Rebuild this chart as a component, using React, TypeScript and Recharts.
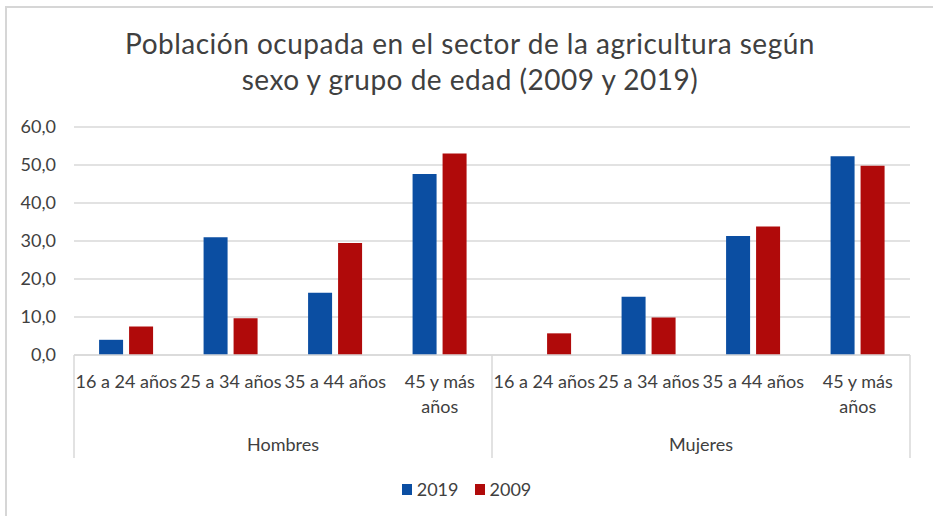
import React from "react";
import { BarChart, Bar, XAxis, YAxis, CartesianGrid, Legend } from "recharts";

const groups = ["Hombres", "Hombres", "Hombres", "Hombres", "Mujeres", "Mujeres", "Mujeres", "Mujeres"];
const ageLabels = [
  "16 a 24 años",
  "25 a 34 años",
  "35 a 44 años",
  "45 y más\naños",
  "16 a 24 años",
  "25 a 34 años",
  "35 a 44 años",
  "45 y más\naños",
];
const values2019 = [4.0, 31.0, 16.4, 47.6, 0, 15.3, 31.3, 52.3];
const values2009 = [7.5, 9.7, 29.5, 53.0, 5.7, 9.9, 33.8, 49.8];
const yTicks = [0, 10, 20, 30, 40, 50, 60];
const seriesOrder = ["2019", "2009"];
const titleLines = [
  "Población ocupada en el sector de la agricultura según",
  "sexo y grupo de edad (2009 y 2019)",
];

const data = ageLabels.map((age, i) => ({
  key: `${groups[i]}-${i}`,
  age,
  group: groups[i],
  v2019: values2019[i],
  v2009: values2009[i],
}));

const FONT = "Lato, 'Open Sans', sans-serif";
const TEXT = "#404040";
const GRID = "#d9d9d9";
const BLUE = "#0b4ea2";
const RED = "#b00a0a";

const AgeTick = (props: any) => {
  const { x, y, payload, index, width } = props;
  const half =
    payload && typeof payload.offset === "number" && payload.offset > 0
      ? payload.offset
      : (width || 836) / data.length / 2;
  const d = data[index];
  const lines = String(d.age).split("\n");
  const prevGroup = index > 0 ? data[index - 1].group : null;
  const isGroupStart = d.group !== prevGroup;
  const isLast = index === data.length - 1;
  const groupItems = data.filter((r) => r.group === d.group);
  const posInGroup = data.slice(0, index).filter((r) => r.group === d.group).length;
  const isGroupMid = posInGroup === Math.floor(groupItems.length / 2) - 1;
  const top = y - 8;
  return (
    <g>
      {lines.map((l, k) => (
        <text
          key={k}
          x={x}
          y={top + 33 + k * 25}
          textAnchor="middle"
          fill={TEXT}
          fontSize={18}
          fontFamily={FONT}
        >
          {l}
        </text>
      ))}
      {isGroupMid && (
        <text
          x={groupItems.length % 2 === 0 ? x + half : x}
          y={top + 96}
          textAnchor="middle"
          fill={TEXT}
          fontSize={18}
          fontFamily={FONT}
        >
          {d.group}
        </text>
      )}
      {isGroupStart && (
        <line x1={x - half} x2={x - half} y1={top} y2={top + 103} stroke={GRID} strokeWidth={1.5} />
      )}
      {isLast && (
        <line x1={x + half} x2={x + half} y1={top} y2={top + 103} stroke={GRID} strokeWidth={1.5} />
      )}
    </g>
  );
};

const LegendContent = (props: any) => {
  const payload = [...(props.payload || [])].sort(
    (a: any, b: any) => seriesOrder.indexOf(String(a.value)) - seriesOrder.indexOf(String(b.value))
  );
  return (
    <div style={{ display: "flex", justifyContent: "center", alignItems: "center", fontFamily: FONT }}>
      {payload.map((p: any, i: number) => (
        <div key={i} style={{ display: "flex", alignItems: "center", marginRight: i === 0 ? 16 : 0 }}>
          <span style={{ width: 10, height: 11, background: p.color, display: "inline-block", marginRight: 5 }} />
          <span style={{ color: TEXT, fontSize: 18 }}>{p.value}</span>
        </div>
      ))}
    </div>
  );
};

export default function App() {
  return (
    <div style={{ position: "absolute", left: 0, top: 0, width: 933, height: 516, background: "#fff" }}>
      <div
        style={{
          position: "absolute",
          left: 5,
          top: 6,
          right: 0,
          bottom: 0,
          borderTop: "2px solid #d6d6d6",
          borderLeft: "2px solid #d6d6d6",
        }}
      />
      <div
        style={{
          position: "absolute",
          left: 0,
          width: 940,
          top: 25,
          textAlign: "center",
          fontFamily: FONT,
          fontSize: 28,
          letterSpacing: 0.5,
          lineHeight: "36px",
          color: TEXT,
        }}
      >
        {titleLines.map((t, i) => (
          <div key={i}>{t}</div>
        ))}
      </div>
      <div style={{ position: "absolute", left: 0, top: 0 }}>
        <BarChart
          width={933}
          height={516}
          data={data}
          margin={{ top: 127, right: 23, bottom: 0, left: 0 }}
          barCategoryGap="24%"
          barGap={6}
        >
          <CartesianGrid vertical={false} stroke={GRID} strokeWidth={1.5} />
          <XAxis
            dataKey="key"
            height={161}
            interval={0}
            tickLine={false}
            axisLine={{ stroke: GRID, strokeWidth: 1.5 }}
            tick={<AgeTick />}
          />
          <YAxis
            width={74}
            domain={[0, 60]}
            ticks={yTicks}
            tickLine={false}
            axisLine={false}
            tickSize={0}
            tickMargin={18}
            tickFormatter={(v: number) => v.toFixed(1).replace(".", ",")}
            tick={{ fill: TEXT, fontSize: 18, fontFamily: FONT }}
          />
          <Legend
            verticalAlign="middle"
            align="center"
            layout="horizontal"
            itemSorter={null as any}
            wrapperStyle={{ top: 478, left: 0, width: 933 }}
            content={<LegendContent />}
          />
          <Bar dataKey="v2019" name="2019" fill={BLUE} isAnimationActive={false} />
          <Bar dataKey="v2009" name="2009" fill={RED} isAnimationActive={false} />
        </BarChart>
      </div>
    </div>
  );
}
